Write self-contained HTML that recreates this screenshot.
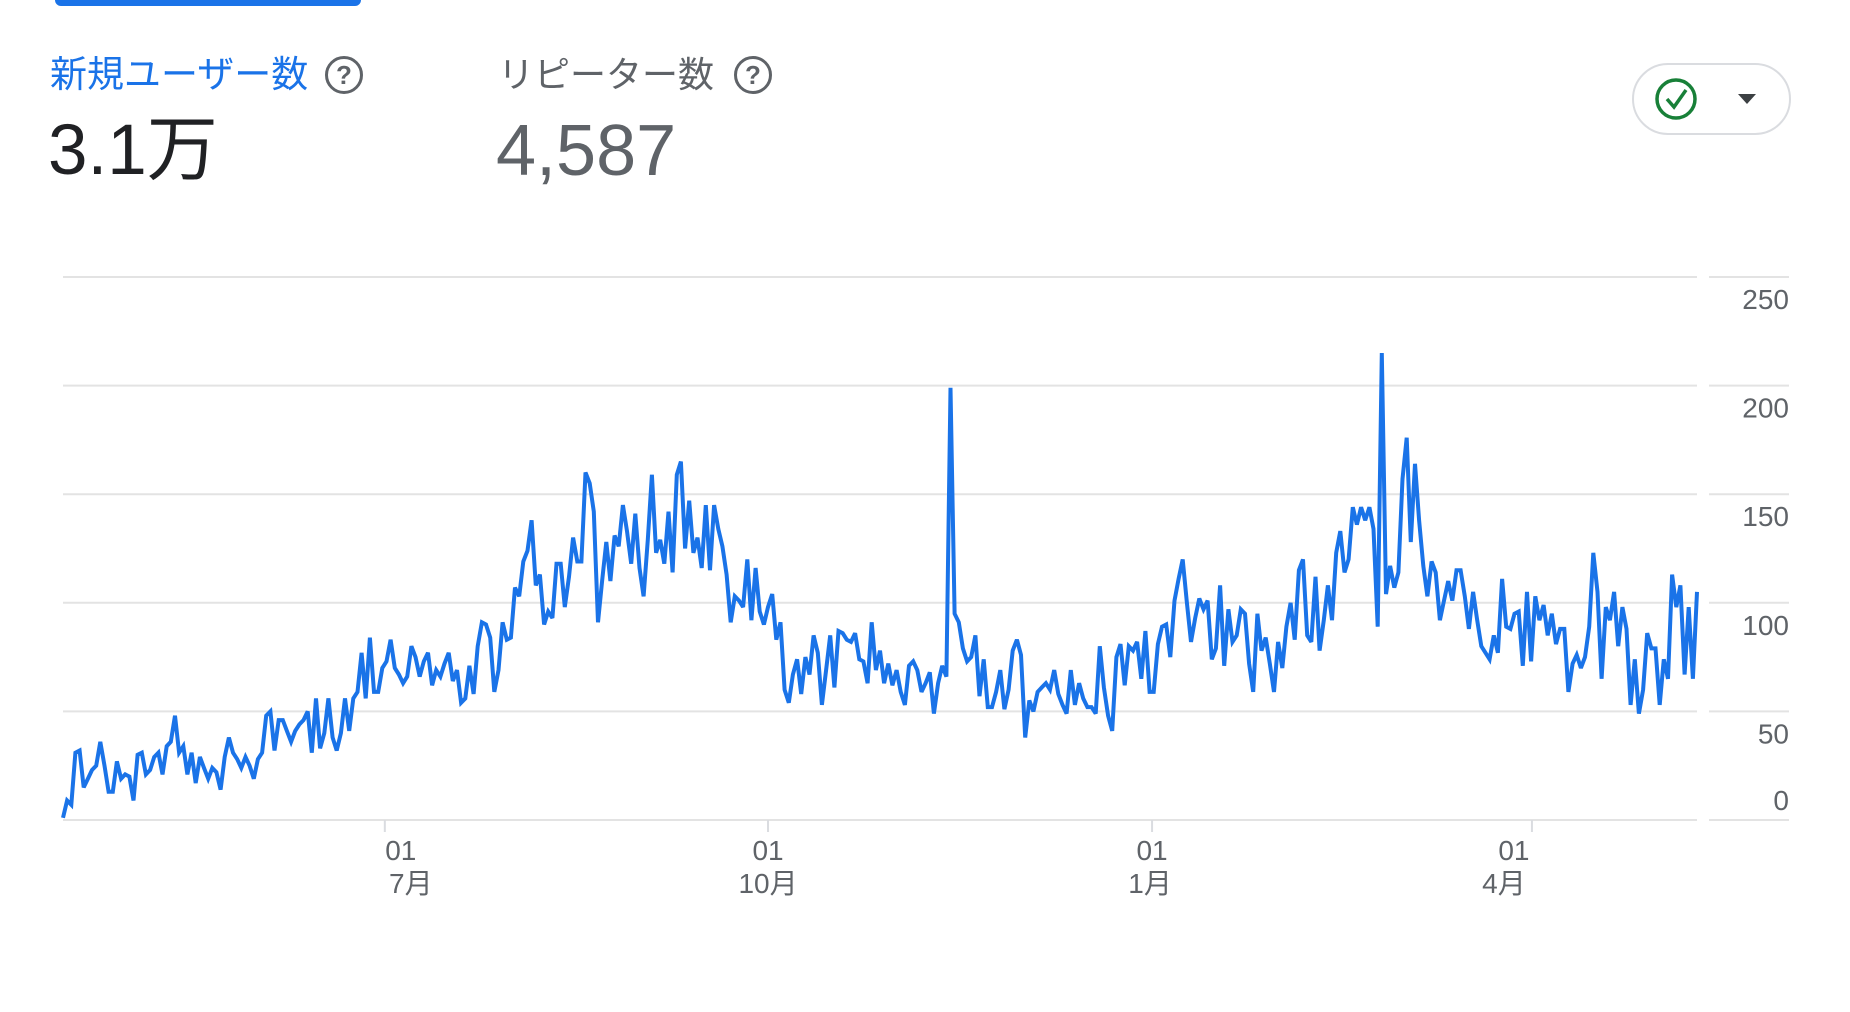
<!DOCTYPE html>
<html><head><meta charset="utf-8"><style>
body{margin:0;width:1850px;height:1012px;background:#fff;overflow:hidden;position:relative;font-family:"Liberation Sans","Noto Sans CJK JP",sans-serif}
.abs{position:absolute;white-space:nowrap}
</style></head><body>
<div class="abs" style="left:55px;top:-6px;width:306px;height:12px;background:#1a73e8;border-radius:6px"></div>
<div class="abs" style="left:50px;top:51px;font-size:37px;color:#1a73e8;line-height:48px">新規ユーザー数</div>
<div class="abs" style="left:325px;top:56px;width:32px;height:32px;border:3px solid #5f6368;border-radius:50%;text-align:center;font-size:26px;line-height:32px;color:#5f6368;font-weight:bold">?</div>
<div class="abs" style="left:48px;top:106px;font-size:71px;color:#202124;line-height:90px">3.1万</div>
<div class="abs" style="left:498px;top:51px;font-size:36px;color:#5f6368;line-height:48px">リピーター数</div>
<div class="abs" style="left:734px;top:56px;width:32px;height:32px;border:3px solid #5f6368;border-radius:50%;text-align:center;font-size:26px;line-height:32px;color:#5f6368;font-weight:bold">?</div>
<div class="abs" style="left:496px;top:106px;font-size:72px;color:#5f6368;line-height:90px">4,587</div>
<div class="abs" style="left:1632px;top:63px;width:155px;height:68px;border:2px solid #dadce0;border-radius:36px">
<svg width="155" height="68" style="position:absolute;left:0;top:0">
<circle cx="42" cy="34" r="19" fill="none" stroke="#188038" stroke-width="3.5"/>
<path d="M33 34 L40 42 L52 25" fill="none" stroke="#188038" stroke-width="3.5"/>
<path d="M104 29 L122 29 L113 39 Z" fill="#3c4043"/>
</svg></div>
<svg id="chart" class="abs" style="left:0;top:0" width="1850" height="1012"></svg>
<script>
const values=[1,9,7,31,32,15,19,23,25,36,25,13,13,27,19,21,20,9,30,31,21,23,29,31,21,34,36,48,31,34,21,31,17,29,24,19,24,22,14,29,38,31,28,24,29,25,19,28,31,48,50,32,46,46,41,36,41,44,46,50,31,56,33,40,56,38,32,40,56,41,56,59,77,56,84,59,59,70,73,83,70,67,63,66,80,75,66,73,77,62,69,66,72,77,64,69,54,56,71,58,
80,91,90,84,59,69,91,83,84,107,103,119,124,138,108,113,90,96,93,118,118,98,112,130,119,119,160,155,142,91,110,128,110,131,126,145,133,118,141,116,103,129,159,123,129,118,142,114,159,165,125,147,123,130,116,145,115,145,134,126,113,91,103,101,98,120,92,116,96,90,98,104,83,91,60,54,67,74,58,75,67,85,77,53,69,85,61,87,86,83,82,86,74,73,63,91,
69,78,63,72,62,69,59,53,71,73,69,59,63,68,49,63,71,66,199,95,91,79,73,75,85,57,74,52,52,59,69,51,60,78,83,76,38,55,50,59,61,63,60,69,58,53,49,69,53,63,56,52,52,49,80,61,48,41,75,81,62,80,78,82,65,87,59,59,81,89,90,75,101,111,120,100,82,93,102,97,101,74,79,108,71,97,82,85,97,95,72,59,95,78,84,72,59,82,70,89,100,
83,115,120,85,82,112,78,92,108,92,123,133,114,120,144,136,144,138,144,134,89,215,104,117,107,114,157,176,128,164,138,117,103,119,114,92,101,110,101,115,115,103,88,105,92,80,77,74,85,77,111,89,88,95,96,71,105,73,103,92,99,85,95,81,88,88,59,72,76,70,75,89,123,105,65,98,92,105,80,98,88,53,74,49,60,86,79,79,53,74,65,113,98,108,67,98,65,105];
const yTicks=[0,50,100,150,200,250];
const xTickDays=[77.6,170,262.6,354.2];
const xTickDay=["01","01","01","01"];
const xTickMonth=["7月","10月","1月","4月"];
</script>
<script>
const svg=document.getElementById('chart');
const NS='http://www.w3.org/2000/svg';
const X0=63,X1=1697,Y0=820,Y1=277,YMAX=250;
const x=i=>X0+i*(X1-X0)/(values.length-1);
const y=v=>Y0-v*(Y0-Y1)/YMAX;
function mk(t,a){const e=document.createElementNS(NS,t);for(const k in a)e.setAttribute(k,a[k]);svg.appendChild(e);return e;}
yTicks.forEach(v=>{
 const g=mk('line',{x1:X0,x2:X1,y1:y(v),y2:y(v),stroke:'#e3e3e3','stroke-width':2});
 
 
 const g2=mk('line',{x1:1709,x2:1789,y1:y(v),y2:y(v),stroke:'#e3e3e3','stroke-width':2});
 
 
 const t=mk('text',{x:1789,y:y(v)+(v===0?-10:32),'text-anchor':'end','font-size':28,fill:'#5f6368','font-family':'Liberation Sans, sans-serif'});
 t.textContent=v;
 
 
});
const dx=[16,0,0,-18],mx=[26,0,-2,-28];
xTickDays.forEach((d,i)=>{
 const tk=mk('line',{x1:x(d),x2:x(d),y1:Y0,y2:Y0+12,stroke:'#dadce0','stroke-width':2});
 
 
 const a=mk('text',{x:x(d)+dx[i],y:860,'text-anchor':'middle','font-size':28,fill:'#5f6368','font-family':'Liberation Sans, sans-serif'});
 a.textContent=xTickDay[i];
 
 
 const b=mk('text',{x:x(d)+mx[i],y:893,'text-anchor':'middle','font-size':28,fill:'#5f6368','font-family':'Liberation Sans, Noto Sans CJK JP, sans-serif'});
 b.textContent=xTickMonth[i];
 
 
});
const p=mk('polyline',{points:values.map((v,i)=>x(i).toFixed(1)+','+y(v).toFixed(1)).join(' '),fill:'none',stroke:'#1a73e8','stroke-width':4,'stroke-linejoin':'miter','stroke-miterlimit':3});


</script>
</body></html>
